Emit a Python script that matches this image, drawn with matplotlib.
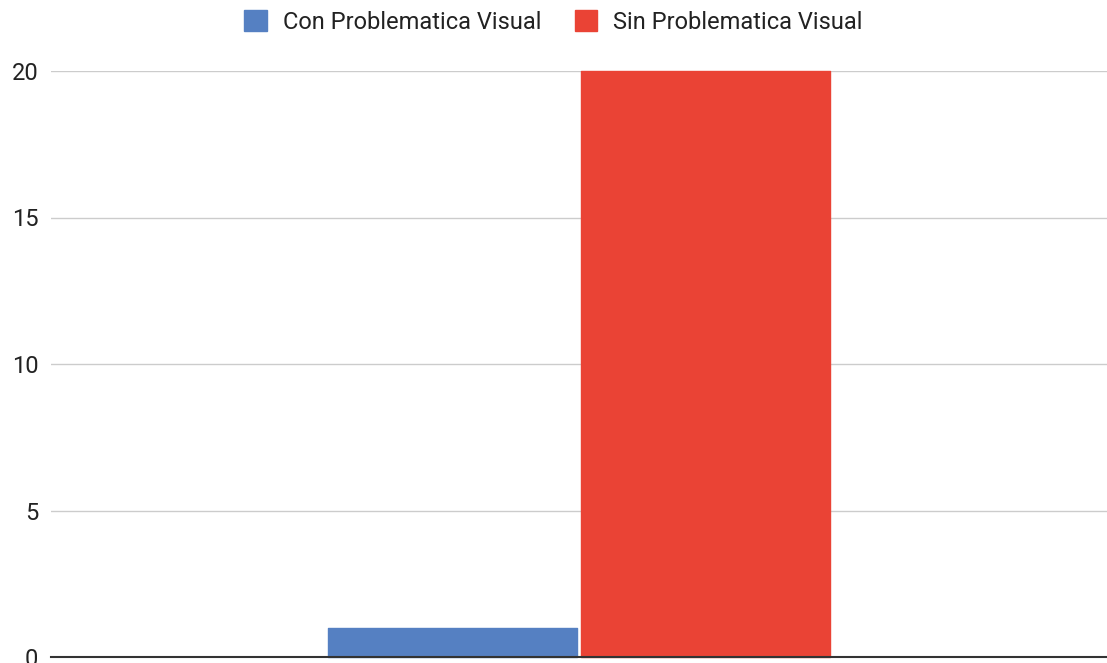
import matplotlib.pyplot as plt
from matplotlib.patches import Patch
import numpy as np

plt.rcParams['font.family'] = ['Roboto', 'DejaVu Sans']

# Datos
series = ['Con Problematica Visual', 'Sin Problematica Visual']
valores = [1, 20]
colores = ['#5580c2', '#ea4335']
yticks = [0, 5, 10, 15, 20]

fig = plt.figure(figsize=(11.07, 6.63), dpi=100)
ax = fig.add_axes([51 / 1107, 6 / 663, 1 - 51 / 1107, 586 / 663])

ancho = 0.2358
hueco = 0.0047
x = np.array([-(ancho + hueco) / 2, (ancho + hueco) / 2])
for xi, v, c in zip(x, valores, colores):
    ax.bar(xi, v, ancho, color=c, edgecolor=c, linewidth=1, joinstyle='round',
           clip_on=False, zorder=3)

ax.set_xlim(-0.5, 0.5)
ax.set_ylim(0, 20)
ax.set_yticks(yticks)
ax.set_xticks([])
ax.tick_params(axis='y', length=0, pad=9, labelsize=17, labelcolor='#222222')

ax.grid(True, axis='y', color='#cccccc', linewidth=1)
ax.set_axisbelow(True)
for s in ['top', 'right', 'left']:
    ax.spines[s].set_visible(False)
ax.spines['bottom'].set_color('#333333')
ax.spines['bottom'].set_linewidth(1.5)
ax.spines['bottom'].set_zorder(4)

handles = [Patch(facecolor=c, edgecolor=c, label=s) for s, c in zip(series, colores)]
fig.legend(handles=handles, loc='center', bbox_to_anchor=(0.5, 1 - 22 / 663),
           ncol=2, frameon=False, fontsize=17, handlelength=0.97, handleheight=0.97,
           handletextpad=0.68, columnspacing=1.4, labelcolor='#222222')

fig.savefig('out.png', dpi=100, facecolor='white')
